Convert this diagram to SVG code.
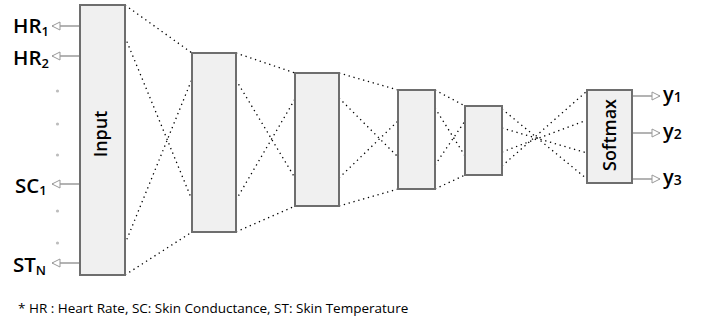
<svg xmlns="http://www.w3.org/2000/svg" width="704" height="324" viewBox="0 0 704 324">
  <defs>
    <marker id="openArrow" viewBox="0 0 10 10" refX="9" refY="5" markerWidth="10" markerHeight="10" markerUnits="userSpaceOnUse" orient="auto">
      <path d="M1,1 L9,5 L1,9 Z" fill="#fff" stroke="#999" stroke-width="1"/>
    </marker>
    <style>
      .layer { fill: #f0f0f0; stroke: #6e6e6e; stroke-width: 2; }
      .link { stroke: #000; stroke-width: 1.3; stroke-dasharray: 1.3 3.7; fill: none; }
      .io { stroke: #9a9a9a; stroke-width: 1.5; fill: none; marker-end: url(#openArrow); }
      .lbl { font-family: "Open Sans", "Noto Sans", "Liberation Sans", sans-serif; font-weight: 600; fill: #000; }
      .dot { fill: #bdbdbd; }
    </style>
  </defs>

  <!-- dotted links between layers -->
  <g id="links">
    <line class="link" x1="125" y1="5" x2="192" y2="53"/>
    <line class="link" x1="125" y1="37" x2="192" y2="200"/>
    <line class="link" x1="125" y1="244" x2="192" y2="79"/>
    <line class="link" x1="125" y1="275" x2="192" y2="232"/>

    <line class="link" x1="236" y1="53" x2="295" y2="73"/>
    <line class="link" x1="236" y1="80" x2="295" y2="178"/>
    <line class="link" x1="236" y1="200" x2="295" y2="99"/>
    <line class="link" x1="236" y1="232" x2="295" y2="206"/>

    <line class="link" x1="339" y1="73" x2="398" y2="90"/>
    <line class="link" x1="339" y1="98" x2="398" y2="157"/>
    <line class="link" x1="339" y1="178" x2="398" y2="121"/>
    <line class="link" x1="339" y1="206" x2="398" y2="189"/>

    <line class="link" x1="435" y1="90" x2="465" y2="106"/>
    <line class="link" x1="435" y1="108" x2="465" y2="156"/>
    <line class="link" x1="435" y1="165" x2="465" y2="121"/>
    <line class="link" x1="435" y1="189" x2="465" y2="175"/>

    <line class="link" x1="502" y1="109" x2="587" y2="179"/>
    <line class="link" x1="502" y1="128" x2="587" y2="153"/>
    <line class="link" x1="502" y1="152" x2="587" y2="120"/>
    <line class="link" x1="502" y1="166" x2="587" y2="91"/>
  </g>

  <!-- input arrows -->
  <g id="input-arrows">
    <line class="io" x1="80" y1="26" x2="52" y2="26"/>
    <line class="io" x1="80" y1="56" x2="52" y2="56"/>
    <line class="io" x1="80" y1="184" x2="52" y2="184"/>
    <line class="io" x1="80" y1="263" x2="52" y2="263"/>
  </g>

  <!-- output arrows -->
  <g id="output-arrows">
    <line class="io" x1="632" y1="96" x2="660" y2="96"/>
    <line class="io" x1="632" y1="133" x2="660" y2="133"/>
    <line class="io" x1="632" y1="179" x2="660" y2="179"/>
  </g>

  <!-- ellipsis dots between inputs -->
  <g id="ellipsis">
    <circle class="dot" cx="57.5" cy="91" r="1.6"/>
    <circle class="dot" cx="57.5" cy="124" r="1.6"/>
    <circle class="dot" cx="57.5" cy="155" r="1.6"/>
    <circle class="dot" cx="57.5" cy="211" r="1.6"/>
    <circle class="dot" cx="57.5" cy="243" r="1.6"/>
  </g>

  <g id="input-layer">
    <rect class="layer" x="80" y="5" width="45" height="270"/>
    <text class="lbl" font-size="18" text-anchor="middle" transform="translate(106.5,134) rotate(-90)">Input</text>
  </g>
  <g id="hidden-1">
    <rect class="layer" x="192" y="53" width="44" height="179"/>
  </g>
  <g id="hidden-2">
    <rect class="layer" x="295" y="73" width="44" height="133"/>
  </g>
  <g id="hidden-3">
    <rect class="layer" x="398" y="90" width="37" height="99"/>
  </g>
  <g id="hidden-4">
    <rect class="layer" x="465" y="106" width="37" height="69"/>
  </g>
  <g id="softmax">
    <rect class="layer" x="587" y="90" width="45" height="93"/>
    <text class="lbl" font-size="18" text-anchor="middle" transform="translate(615.5,135) rotate(-90)">Softmax</text>
  </g>

  <!-- input labels -->
  <g id="input-labels">
    <text class="lbl" x="13" y="33" font-size="20.5">HR<tspan font-size="13" dy="3">1</tspan></text>
    <text class="lbl" x="13" y="65" font-size="20.5">HR<tspan font-size="13" dy="3">2</tspan></text>
    <text class="lbl" x="15" y="193" font-size="20.5">SC<tspan font-size="13" dy="2">1</tspan></text>
    <text class="lbl" x="13" y="272" font-size="20.5">ST<tspan font-size="13" dy="3">N</tspan></text>
  </g>

  <!-- output labels -->
  <g id="output-labels">
    <text class="lbl" x="663" y="101" font-size="20">y<tspan font-size="14" dy="1">1</tspan></text>
    <text class="lbl" x="663" y="138" font-size="20">y<tspan font-size="14" dy="1">2</tspan></text>
    <text class="lbl" x="663" y="184" font-size="20">y<tspan font-size="14" dy="1">3</tspan></text>
  </g>

  <text x="18" y="313" font-family="'Open Sans', 'Noto Sans', 'Liberation Sans', sans-serif" font-size="13.5" fill="#000">* HR : Heart Rate, SC: Skin Conductance, ST: Skin Temperature</text>
</svg>
